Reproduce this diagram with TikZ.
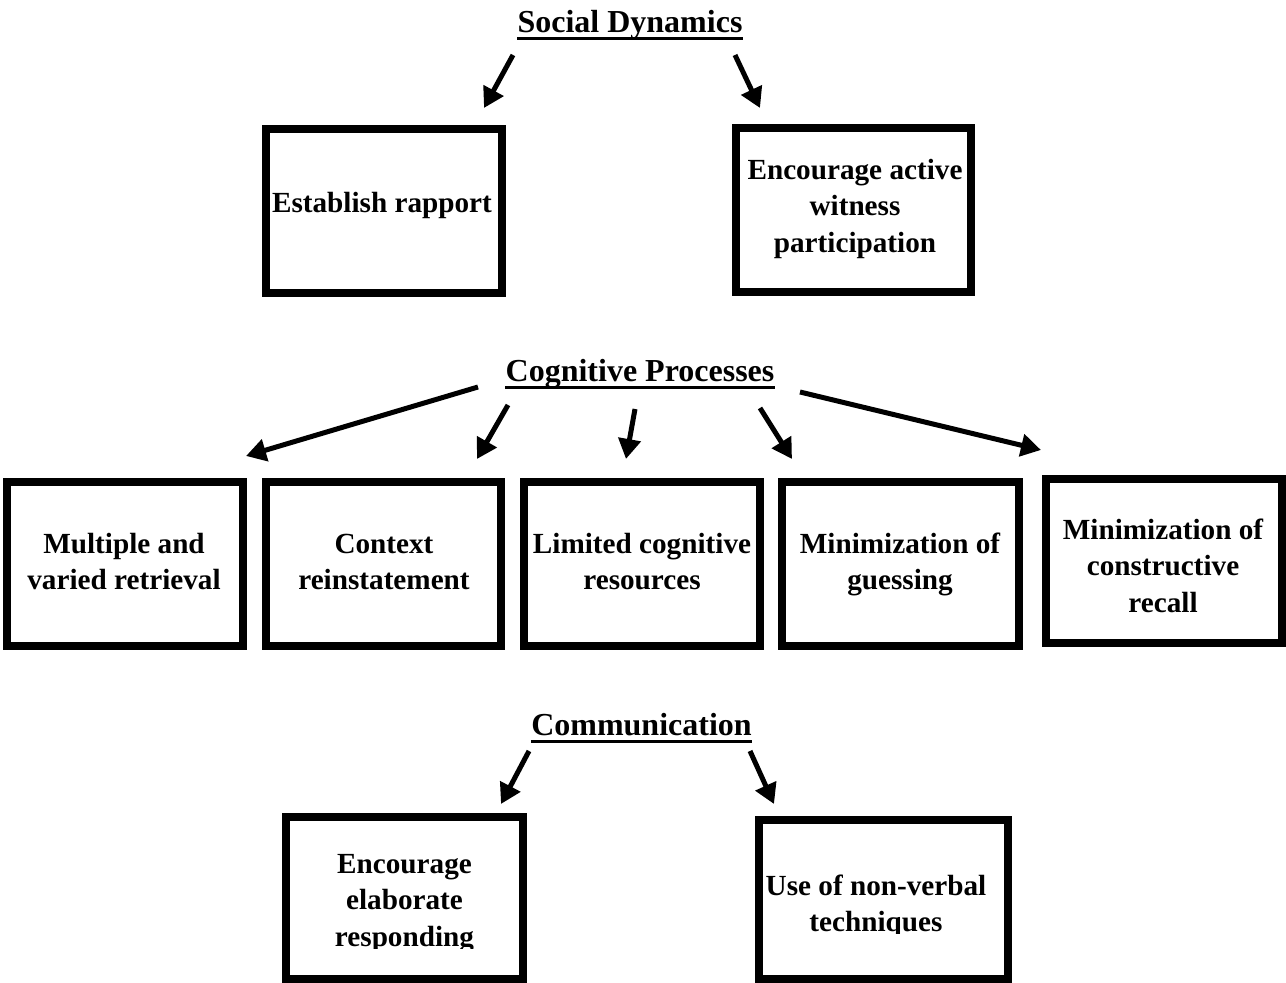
\documentclass[tikz,border=0pt]{standalone}
\usepackage{fontspec}
\setmainfont{Liberation Serif}
\usetikzlibrary{arrows.meta}
\begin{document}
\begin{tikzpicture}[x=0.5pt,y=-0.5pt,
  frame/.style={draw=black,line width=4pt,inner sep=0pt,anchor=center,minimum height=82pt},
  boxtext/.style={font=\fontsize{14.6pt}{18.25pt}\selectfont\bfseries,align=center,inner sep=0pt,anchor=north},
  title/.style={font=\fontsize{16pt}{20pt}\selectfont\bfseries,inner sep=0pt,anchor=base},
  uline/.style={line width=1.5pt},
  link/.style={line width=2.5pt,-{Triangle[length=10pt,width=11pt]}}]
\useasboundingbox (0,0) rectangle (1286,983);
% ---------- Social Dynamics ----------
\node[title] (sd) at (630,33) {Social Dynamics};
\draw[uline] ([yshift=-2.75pt]sd.base west) -- ([yshift=-2.75pt]sd.base east);
\node[frame,minimum width=118pt] (b1) at (384,211) {};
\node[frame,minimum width=117.5pt] (b2) at (853.5,210) {};
\node[boxtext] (t1) at (382,186.45) {\strut Establish rapport};
\node[boxtext] (t2) at (855,153.45) {\strut Encourage active\\witness\\participation};
\coordinate (s1a) at (513,55); \coordinate (e1a) at (484,108);
\coordinate (s1b) at (735,55); \coordinate (e1b) at (760,108);
\draw[link] (s1a) -- (e1a);
\draw[link] (s1b) -- (e1b);
% ---------- Cognitive Processes ----------
\node[title] (cp) at (640,382) {Cognitive Processes};
\draw[uline] ([yshift=-2.75pt]cp.base west) -- ([yshift=-2.75pt]cp.base east);
\node[frame,minimum width=118pt] (b3) at (125,564) {};
\node[frame,minimum width=117.5pt] (b4) at (383.5,564) {};
\node[frame,minimum width=118pt] (b5) at (642,564) {};
\node[frame,minimum width=118.5pt] (b6) at (900.5,564) {};
\node[frame,minimum width=118pt] (b7) at (1164,561) {};
\node[boxtext] (t3) at (124,527.45) {\strut Multiple and\\varied retrieval};
\node[boxtext] (t4) at (384,527.45) {\strut Context\\reinstatement};
\node[boxtext] (t5) at (642,527.45) {\strut Limited cognitive\\resources};
\node[boxtext] (t6) at (900,527.45) {\strut Minimization of\\guessing};
\node[boxtext] (t7) at (1163,513.45) {\strut Minimization of\\constructive\\recall};
\coordinate (s2a) at (478,387); \coordinate (e2a) at (246,456);
\coordinate (s2b) at (508,405); \coordinate (e2b) at (477,459);
\coordinate (s2c) at (635,409); \coordinate (e2c) at (626,459);
\coordinate (s2d) at (760,408); \coordinate (e2d) at (792,459);
\coordinate (s2e) at (800,392); \coordinate (e2e) at (1041,450);
\draw[link] (s2a) -- (e2a);
\draw[link] (s2b) -- (e2b);
\draw[link] (s2c) -- (e2c);
\draw[link] (s2d) -- (e2d);
\draw[link] (s2e) -- (e2e);
% ---------- Communication ----------
\node[title] (cm) at (641.5,736) {Communication};
\draw[uline] ([yshift=-2.75pt]cm.base west) -- ([yshift=-2.75pt]cm.base east);
\node[frame,minimum width=118.5pt,minimum height=81pt] (b8) at (404.5,898) {};
\node[frame,minimum width=124.5pt,minimum height=79.5pt] (b9) at (883.5,899.5) {};
\begin{scope}
\clip (0,0) rectangle (1286,948);
\node[boxtext] (t8) at (404.5,847.45) {\strut Encourage\\elaborate\\responding};
\end{scope}
\begin{scope}
\clip (0,0) rectangle (1286,933);
\node[boxtext] (t9) at (876,869.45) {\strut Use of non-verbal\\techniques};
\end{scope}
\coordinate (s3a) at (529,751); \coordinate (e3a) at (501,804);
\coordinate (s3b) at (750,751); \coordinate (e3b) at (774,804);
\draw[link] (s3a) -- (e3a);
\draw[link] (s3b) -- (e3b);
\end{tikzpicture}
\end{document}
